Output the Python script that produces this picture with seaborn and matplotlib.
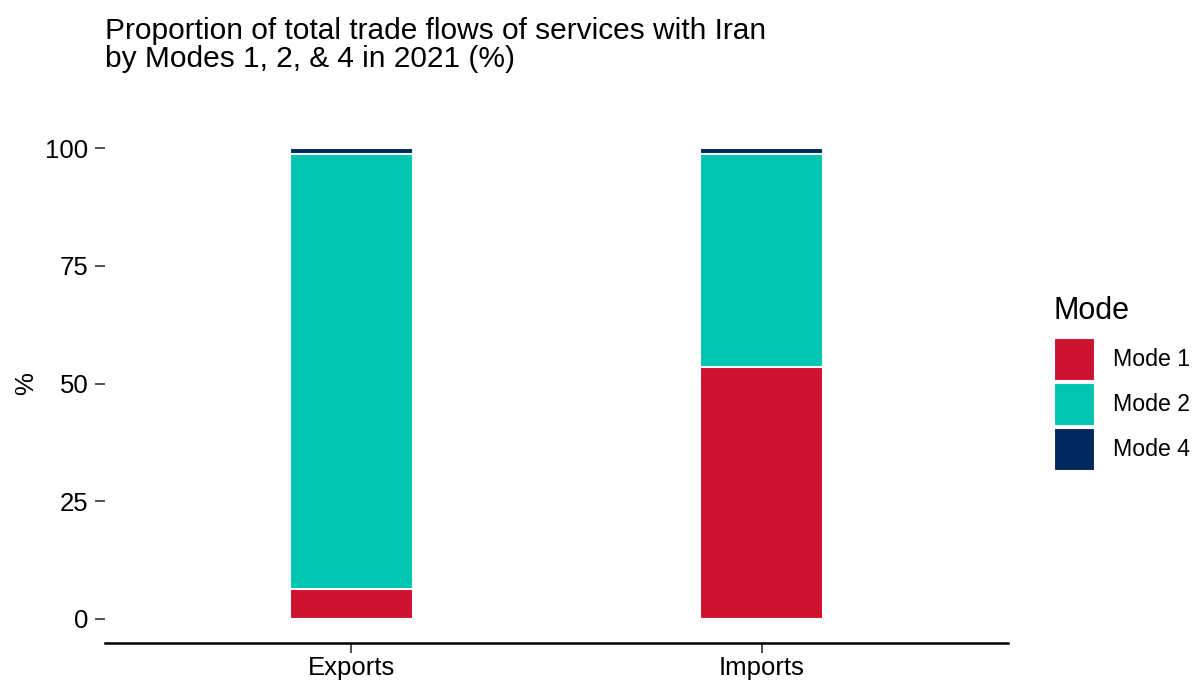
import matplotlib
matplotlib.use("Agg")
import matplotlib.pyplot as plt
import matplotlib.patches as mpatches
import seaborn as sns
import pandas as pd
import numpy as np

sns.set_style("white")
plt.rcParams['font.family'] = ['Liberation Sans', 'DejaVu Sans']
plt.rcParams['text.color'] = 'black'

flows = ["Exports", "Imports"]
modes = ["Mode 1", "Mode 2", "Mode 4"]
mode1 = [6.4, 53.6]
mode2 = [92.3, 45.1]
mode4 = [1.3, 1.3]
colors = {"Mode 1": "#CE1230", "Mode 2": "#00C5B0", "Mode 4": "#00285F"}

title = "Proportion of total trade flows of services with Iran\nby Modes 1, 2, & 4 in 2021 (%)"

df = pd.DataFrame({"Flow": flows, "Mode 1": mode1, "Mode 2": mode2, "Mode 4": mode4})
cum = df[modes].cumsum(axis=1)

fig = plt.figure(figsize=(11.95, 6.8), dpi=100)
ax = fig.add_axes([105/1195, 37.5/680, 903/1195, 518/680])

for m in reversed(modes):
    sns.barplot(x=df["Flow"], y=cum[m], color=colors[m], width=0.3,
                edgecolor="white", linewidth=1.5, ax=ax, saturation=1)

ax.set_xlim(-0.6, 1.6)
ax.set_ylim(-5, 105)
ax.set_yticks([0, 25, 50, 75, 100])
ax.set_xlabel("")
ax.set_ylabel("%", fontsize=18.5, labelpad=5, color="black")
ax.tick_params(axis="y", labelsize=18.5, colors="#333333", labelcolor="black",
               length=7, width=1.2, left=True, pad=5)
ax.tick_params(axis="x", labelsize=18.5, colors="#333333", labelcolor="black",
               length=7, width=1.2, bottom=True, pad=3)
for s in ["top", "right", "left"]:
    ax.spines[s].set_visible(False)
ax.spines["bottom"].set_linewidth(1.8)
ax.spines["bottom"].set_color("black")

fig.text(105/1195, 1 - 17/680, title, ha="left", va="top", fontsize=21.5,
         linespacing=1.0, color="black")

handles = [mpatches.Patch(facecolor=colors[m], edgecolor="white", linewidth=0.8, label=m)
           for m in modes]
leg = fig.legend(handles=handles, title="Mode", loc="upper left",
                 bbox_to_anchor=(1054/1195, 1 - 296/680), frameon=False,
                 fontsize=16.7, title_fontsize=22, handlelength=1.72, handleheight=2.41,
                 labelspacing=0.13, handletextpad=0.82, borderaxespad=0, borderpad=0,
                 labelcolor="black")
leg.get_title().set_color("black")
leg._legend_box.align = "left"
leg._legend_box.sep = 8.5

fig.savefig("out.png", dpi=100)
